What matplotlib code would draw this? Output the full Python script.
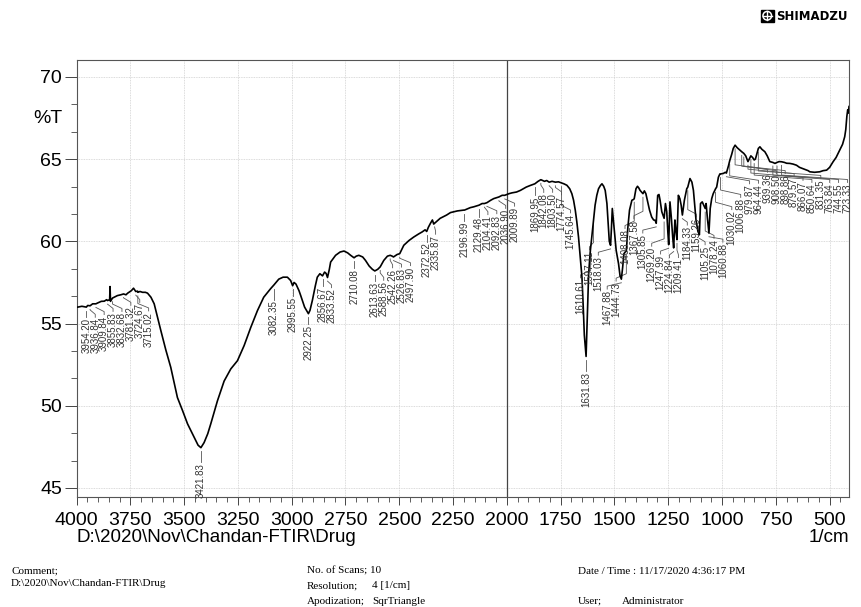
import numpy as np
import matplotlib
matplotlib.use("Agg")
import matplotlib.pyplot as plt
from matplotlib.ticker import MultipleLocator, FixedLocator
from matplotlib.transforms import IdentityTransform
from matplotlib.patches import Rectangle, Circle
from matplotlib.lines import Line2D
from matplotlib import font_manager

# ---------------- data ----------------
wavenumber = [
    4000, 3994, 3975, 3954.2, 3948, 3936.84, 3925, 3909.84, 3902, 3885, 3871, 3860,
    3855.83, 3846, 3844, 3842, 3832.68, 3825, 3810, 3794, 3781.32, 3770, 3762, 3745,
    3735, 3724.67, 3716, 3715.02, 3705, 3693, 3680, 3670, 3654, 3639, 3608, 3585,
    3562, 3531, 3507, 3484, 3453, 3435, 3421.83, 3407, 3390, 3376, 3345, 3314, 3283,
    3252, 3221, 3198, 3190, 3159, 3130, 3098, 3082.35, 3060, 3040, 3020, 3005,
    2995.55, 2989, 2980, 2966, 2958, 2940, 2922.25, 2915, 2904, 2890, 2881, 2869,
    2856.67, 2847, 2840, 2833.52, 2825, 2819, 2796, 2775, 2757, 2740, 2726, 2710.08,
    2700, 2688, 2670, 2657, 2640, 2625, 2613.63, 2600, 2588.56, 2572, 2555, 2542.26,
    2533, 2526.83, 2510, 2497.90, 2479, 2455, 2433, 2410, 2394, 2380, 2372.52, 2365,
    2355, 2346, 2340, 2335.87, 2310, 2280, 2262, 2230, 2201, 2196.99, 2170, 2154,
    2129.48, 2115, 2104.41, 2092.83, 2075, 2061, 2036.90, 2022, 2009.89, 1990, 1976,
    1955, 1937, 1910, 1891, 1869.95, 1855, 1842.08, 1825, 1815, 1803.50, 1790,
    1774.57, 1760, 1745.64, 1735, 1721, 1708, 1698, 1690, 1682, 1675, 1667, 1659,
    1651, 1645, 1640, 1631.83, 1626, 1620, 1613, 1610.61, 1603, 1597.11, 1590, 1582,
    1574, 1565, 1558, 1550, 1543, 1535, 1530, 1524, 1518.03, 1514, 1510, 1505, 1498,
    1492, 1481, 1474, 1467.88, 1462, 1456, 1450, 1444.73, 1438, 1430, 1419, 1411,
    1408.08, 1400, 1393, 1387, 1381, 1367.58, 1361, 1354, 1347, 1337, 1327, 1318,
    1311, 1305.85, 1299, 1293, 1288, 1280, 1269.20, 1263, 1257, 1252, 1247.99, 1242,
    1236, 1229, 1224.84, 1219, 1214, 1209.41, 1203, 1196, 1190, 1184.33, 1175, 1164,
    1159.26, 1149, 1140, 1133, 1121, 1112, 1105.25, 1100, 1092, 1085, 1078.24, 1074,
    1068, 1060.88, 1055, 1048, 1041, 1030.02, 1025, 1017, 1010, 1006.88, 994, 985,
    979.87, 970, 964.44, 955, 948, 939.36, 930, 917, 908.50, 898.86, 890, 879.57, 870,
    866.07, 858, 850.64, 845, 831.35, 824, 815, 801, 790, 778, 763.84, 754, 744.55,
    735, 723.33, 710, 700, 685, 670, 654, 640, 620, 600, 592, 570, 546, 530, 514, 500,
    484, 470, 453, 440, 430, 425, 420, 416, 413, 410,
]
transmittance = [
    56.0, 56.0, 56.05, 56.0, 56.1, 56.08, 56.2, 56.2, 56.25, 56.35, 56.36, 56.45,
    56.4, 56.45, 57.25, 56.35, 56.55, 56.6, 56.7, 56.75, 56.8, 56.75, 56.85, 57.0,
    57.15, 56.95, 56.97, 56.9, 56.95, 56.9, 56.9, 56.85, 56.6, 56.2, 54.57, 53.4,
    52.34, 50.5, 49.7, 48.9, 48.07, 47.6, 47.45, 47.76, 48.3, 48.9, 50.3, 51.5, 52.24,
    52.74, 53.66, 54.47, 54.77, 55.79, 56.6, 57.12, 57.35, 57.7, 57.82, 57.82, 57.62,
    57.3, 57.5, 57.4, 57.0, 56.7, 56.0, 55.6, 55.8, 56.4, 57.3, 57.82, 58.03,
    57.9, 58.13, 58.05, 57.8, 58.3, 58.74, 59.15, 59.35, 59.41, 59.3, 59.15, 59.0,
    59.1, 59.15, 59.05, 58.84, 58.5, 58.3, 58.2, 58.3, 58.45, 58.84, 59.1, 59.15,
    59.1, 59.05, 59.2, 59.25, 59.76, 60.05, 60.26, 60.45, 60.57, 60.7, 60.6, 60.85,
    61.1, 61.3, 61.05, 61.1, 61.4, 61.6, 61.75, 61.85, 61.9, 61.9, 62.05, 62.1,
    62.2, 62.3, 62.3, 62.35, 62.5, 62.6, 62.7, 62.8, 62.8, 62.9, 62.95,
    63.0, 63.1, 63.3, 63.4, 63.5, 63.65, 63.75, 63.65, 63.7, 63.6, 63.65,
    63.6, 63.62, 63.55, 63.5, 63.41, 63.2, 62.9, 62.5, 61.89, 61.2, 60.26, 59.0,
    57.82, 56.0, 54.3, 53.0, 55.5, 58.0, 59.3, 59.6, 60.6, 61.3, 62.2, 62.8,
    63.2, 63.4, 63.5, 63.35, 63.1, 62.3, 61.28, 60.0, 59.76, 60.8, 62.0, 61.28, 60.2,
    59.45, 58.64, 57.9, 57.7, 58.4, 59.25, 59.35, 59.4, 60.8, 61.9, 62.5, 62.55,
    62.6, 63.2, 63.35, 63.25, 63.1, 62.9, 63.07, 62.9, 62.5, 61.9, 61.48, 61.3,
    61.28, 61.1, 62.8, 62.85, 62.5, 61.8, 61.4, 62.3, 61.8, 60.6, 59.8, 62.4,
    61.5, 60.2, 59.6, 61.3, 60.6, 60.1, 62.8, 62.6, 62.2, 61.6, 62.5, 63.2,
    63.3, 63.82, 63.6, 63.1, 61.3, 60.6, 60.4, 62.3, 62.4, 62.2, 62.0, 62.3,
    61.4, 60.5, 62.0, 62.6, 62.9, 63.2, 63.3, 63.9, 64.1, 64.1, 64.13, 64.2,
    64.15, 64.6, 64.9, 65.3, 65.65, 65.85, 65.7, 65.55, 65.45, 65.35, 65.2, 64.85, 65.1,
    65.2, 65.1, 64.95, 65.0, 65.65, 65.75, 65.6, 65.45, 65.2, 64.85, 64.8, 64.74, 64.8,
    64.85, 64.84, 64.8, 64.75, 64.74, 64.7, 64.63, 64.5, 64.4, 64.3, 64.23, 64.2, 64.23, 64.3, 64.33, 64.5,
    64.84, 65.1, 65.55, 65.9, 66.36, 66.8, 67.6, 68.0, 67.8, 68.2,
]
peak_wavenumbers = [
    3954.20, 3936.84, 3909.84, 3855.83, 3832.68, 3781.32, 3724.67, 3715.02,
    3421.83, 3082.35, 2995.55, 2922.25, 2856.67, 2833.52, 2710.08, 2613.63,
    2588.56, 2542.26, 2526.83, 2497.90, 2372.52, 2335.87, 2196.99, 2129.48,
    2104.41, 2092.83, 2036.90, 2009.89, 1869.95, 1842.08, 1803.50, 1774.57,
    1745.64, 1631.83, 1610.61, 1597.11, 1518.03, 1467.88, 1444.73, 1408.08,
    1367.58, 1305.85, 1269.20, 1247.99, 1224.84, 1209.41, 1184.33, 1159.26,
    1105.25, 1078.24, 1060.88, 1030.02, 1006.88, 979.87, 964.44, 939.36,
    908.50, 898.86, 879.57, 866.07, 850.64, 831.35, 763.84, 744.55, 723.33,
]
x_ticks = [4000, 3750, 3500, 3250, 3000, 2750, 2500, 2250, 2000, 1750, 1500, 1250, 1000, 750, 500]
y_ticks = [45, 50, 55, 60, 65, 70]
x_label = "D:\\2020\\Nov\\Chandan-FTIR\\Drug"
x_unit = "1/cm"
y_label = "%T"
footer_left = ["Comment;", "D:\\2020\\Nov\\Chandan-FTIR\\Drug"]
footer_mid_keys = ["No. of Scans; 10", "Resolution;", "Apodization;"]
footer_mid_vals = ["", "4 [1/cm]", "SqrTriangle"]
footer_right = ["Date / Time : 11/17/2020 4:36:17 PM", "User;", "Administrator"]
brand = "SHIMADZU"

# ---------------- fonts ----------------
available = {f.name for f in font_manager.fontManager.ttflist}
sans = "Liberation Sans" if "Liberation Sans" in available else "DejaVu Sans"
narrow = "Liberation Sans Narrow" if "Liberation Sans Narrow" in available else sans
serif = "Liberation Serif" if "Liberation Serif" in available else "DejaVu Serif"
plt.rcParams["font.family"] = [sans, "DejaVu Sans"]

W, H = 861, 607
fig = plt.figure(figsize=(W / 100, H / 100), dpi=100)
fig.patch.set_facecolor("white")
L, R, T, B = 76.5, 849.0, 60.0, 497.0
ax = fig.add_axes([L / W, 1 - B / H, (R - L) / W, (B - T) / H])
ax.set_xlim(4000, 410)
ax.set_ylim(44.45, 71.03)

ax.plot(wavenumber, transmittance, color="black", lw=1.2, zorder=4, solid_joinstyle="round")

# axes styling
ax.xaxis.set_major_locator(FixedLocator(x_ticks))
ax.xaxis.set_minor_locator(MultipleLocator(50))
ax.yaxis.set_major_locator(FixedLocator(y_ticks))
ax.yaxis.set_minor_locator(MultipleLocator(5 / 3))
ax.set_xticklabels([str(v) for v in x_ticks])
ax.set_yticklabels([str(v) for v in y_ticks])
ax.tick_params(axis="x", which="major", length=6, width=0.7, pad=5, labelsize=14, colors="#444444", labelcolor="black")
ax.tick_params(axis="x", which="minor", length=3.6, width=0.6, colors="#444444")
ax.tick_params(axis="y", which="major", length=8.5, width=0.7, pad=2, labelsize=14, colors="#444444", labelcolor="black")
ax.tick_params(axis="y", which="minor", length=4.3, width=0.6, colors="#444444")
for s in ax.spines.values():
    s.set_color("#555555")
    s.set_linewidth(0.8)
ax.grid(True, which="major", color="#cfcfcf", lw=0.6, ls=(0, (1, 1)), zorder=0)
ax.axvline(2000, color="#444444", lw=0.9, zorder=2)

ax.annotate(y_label, xy=(0, 67.5), xycoords=("axes fraction", "data"), xytext=(-14.5, 0),
            textcoords="offset pixels", ha="right", va="center", fontsize=14)

# ---------------- peak labels ----------------
wn = np.array(wavenumber, dtype=float)
tr = np.array(transmittance, dtype=float)
order = np.argsort(wn)


def curve(w):
    return np.interp(w, wn[order], tr[order])


def to_px(w):
    return ax.transData.transform((w, 50.0))[0]


def to_wn(px):
    return ax.transData.inverted().transform((px, 0.0))[0]


peaks = sorted(peak_wavenumbers, reverse=True)  # left to right
deep = [p for p in peaks if curve(p) < 54]
spread_peaks = [p for p in peaks if p not in deep]
desired = [to_px(p) for p in spread_peaks]
gap, lo, hi = 8.9, L + 3, R - 1.5

# forward pass (push right), then backward pass (respect right bound)
pos = []
for x in desired:
    x = max(x, lo)
    if pos and x < pos[-1] + gap:
        x = pos[-1] + gap
    pos.append(x)
for i in range(len(pos) - 1, -1, -1):
    limit = hi if i == len(pos) - 1 else pos[i + 1] - gap
    pos[i] = min(pos[i], limit)

positions = dict(zip(spread_peaks, pos))
for p in deep:
    positions[p] = to_px(p)

offset = 0.62
for p in peaks:
    px = to_px(p)
    lx = positions[p]
    cy = curve(p)
    a, b = sorted([px, lx])
    ws = np.linspace(to_wn(a - 4), to_wn(b + 4), 120)
    if p in deep:
        top = cy - 0.9
    else:
        top = max(curve(ws).min(), cy - 1.2) - offset
    y0 = cy - 0.22
    lw_ = to_wn(lx)
    if abs(lx - px) < 0.6:
        xs, ys = [p, p], [y0, top]
    else:
        yb = min(top + 0.45, y0)
        xs, ys = [p, p, lw_, lw_], [y0, yb, top + 0.18, top]
    ax.add_line(Line2D(xs, ys, color="#555555", lw=0.6, zorder=3))
    ax.text(lw_, top - 0.05, f"{p:.2f}", rotation=90, ha="center", va="top",
            fontsize=7, color="#333333", family=narrow, zorder=5)

# ---------------- figure texts ----------------
fig.text(77 / W, 1 - 537 / H, x_label, ha="left", va="center", fontsize=13.5)
fig.text(849 / W, 1 - 537 / H, x_unit, ha="right", va="center", fontsize=13.5)

fs = 8
fig.text(11 / W, 1 - 571 / H, footer_left[0], fontsize=fs, family=serif, va="center")
fig.text(11 / W, 1 - 584 / H, footer_left[1], fontsize=fs, family=serif, va="center")
rows = [571, 586, 601]
for k, (key, val) in enumerate(zip(footer_mid_keys, footer_mid_vals)):
    fig.text(307 / W, 1 - rows[k] / H, key, fontsize=fs, family=serif, va="center")
    if val:
        fig.text(372 / W, 1 - rows[k] / H, val, fontsize=fs, family=serif, va="center")
fig.text(578 / W, 1 - 571 / H, footer_right[0], fontsize=fs, family=serif, va="center")
fig.text(578 / W, 1 - 601 / H, footer_right[1], fontsize=fs, family=serif, va="center")
fig.text(622 / W, 1 - 601 / H, footer_right[2], fontsize=fs, family=serif, va="center")

# logo
idt = IdentityTransform()
fig.add_artist(Rectangle((761, H - 22), 12.5, 12.5, transform=idt, facecolor="black", edgecolor="black"))
cx, cyy = 767.25, H - 15.75
fig.add_artist(Circle((cx, cyy), 4.3, transform=idt, fill=False, edgecolor="white", lw=1.1))
fig.add_artist(Line2D([cx - 4.3, cx + 4.3], [cyy, cyy], transform=idt, color="white", lw=1.0))
fig.add_artist(Line2D([cx, cx], [cyy - 4.3, cyy + 4.3], transform=idt, color="white", lw=1.0))
fig.text(776 / W, 1 - 16 / H, brand, fontsize=8.5, weight="bold", family="DejaVu Sans",
         va="center", ha="left")

fig.savefig("out.png", dpi=100, facecolor="white")
